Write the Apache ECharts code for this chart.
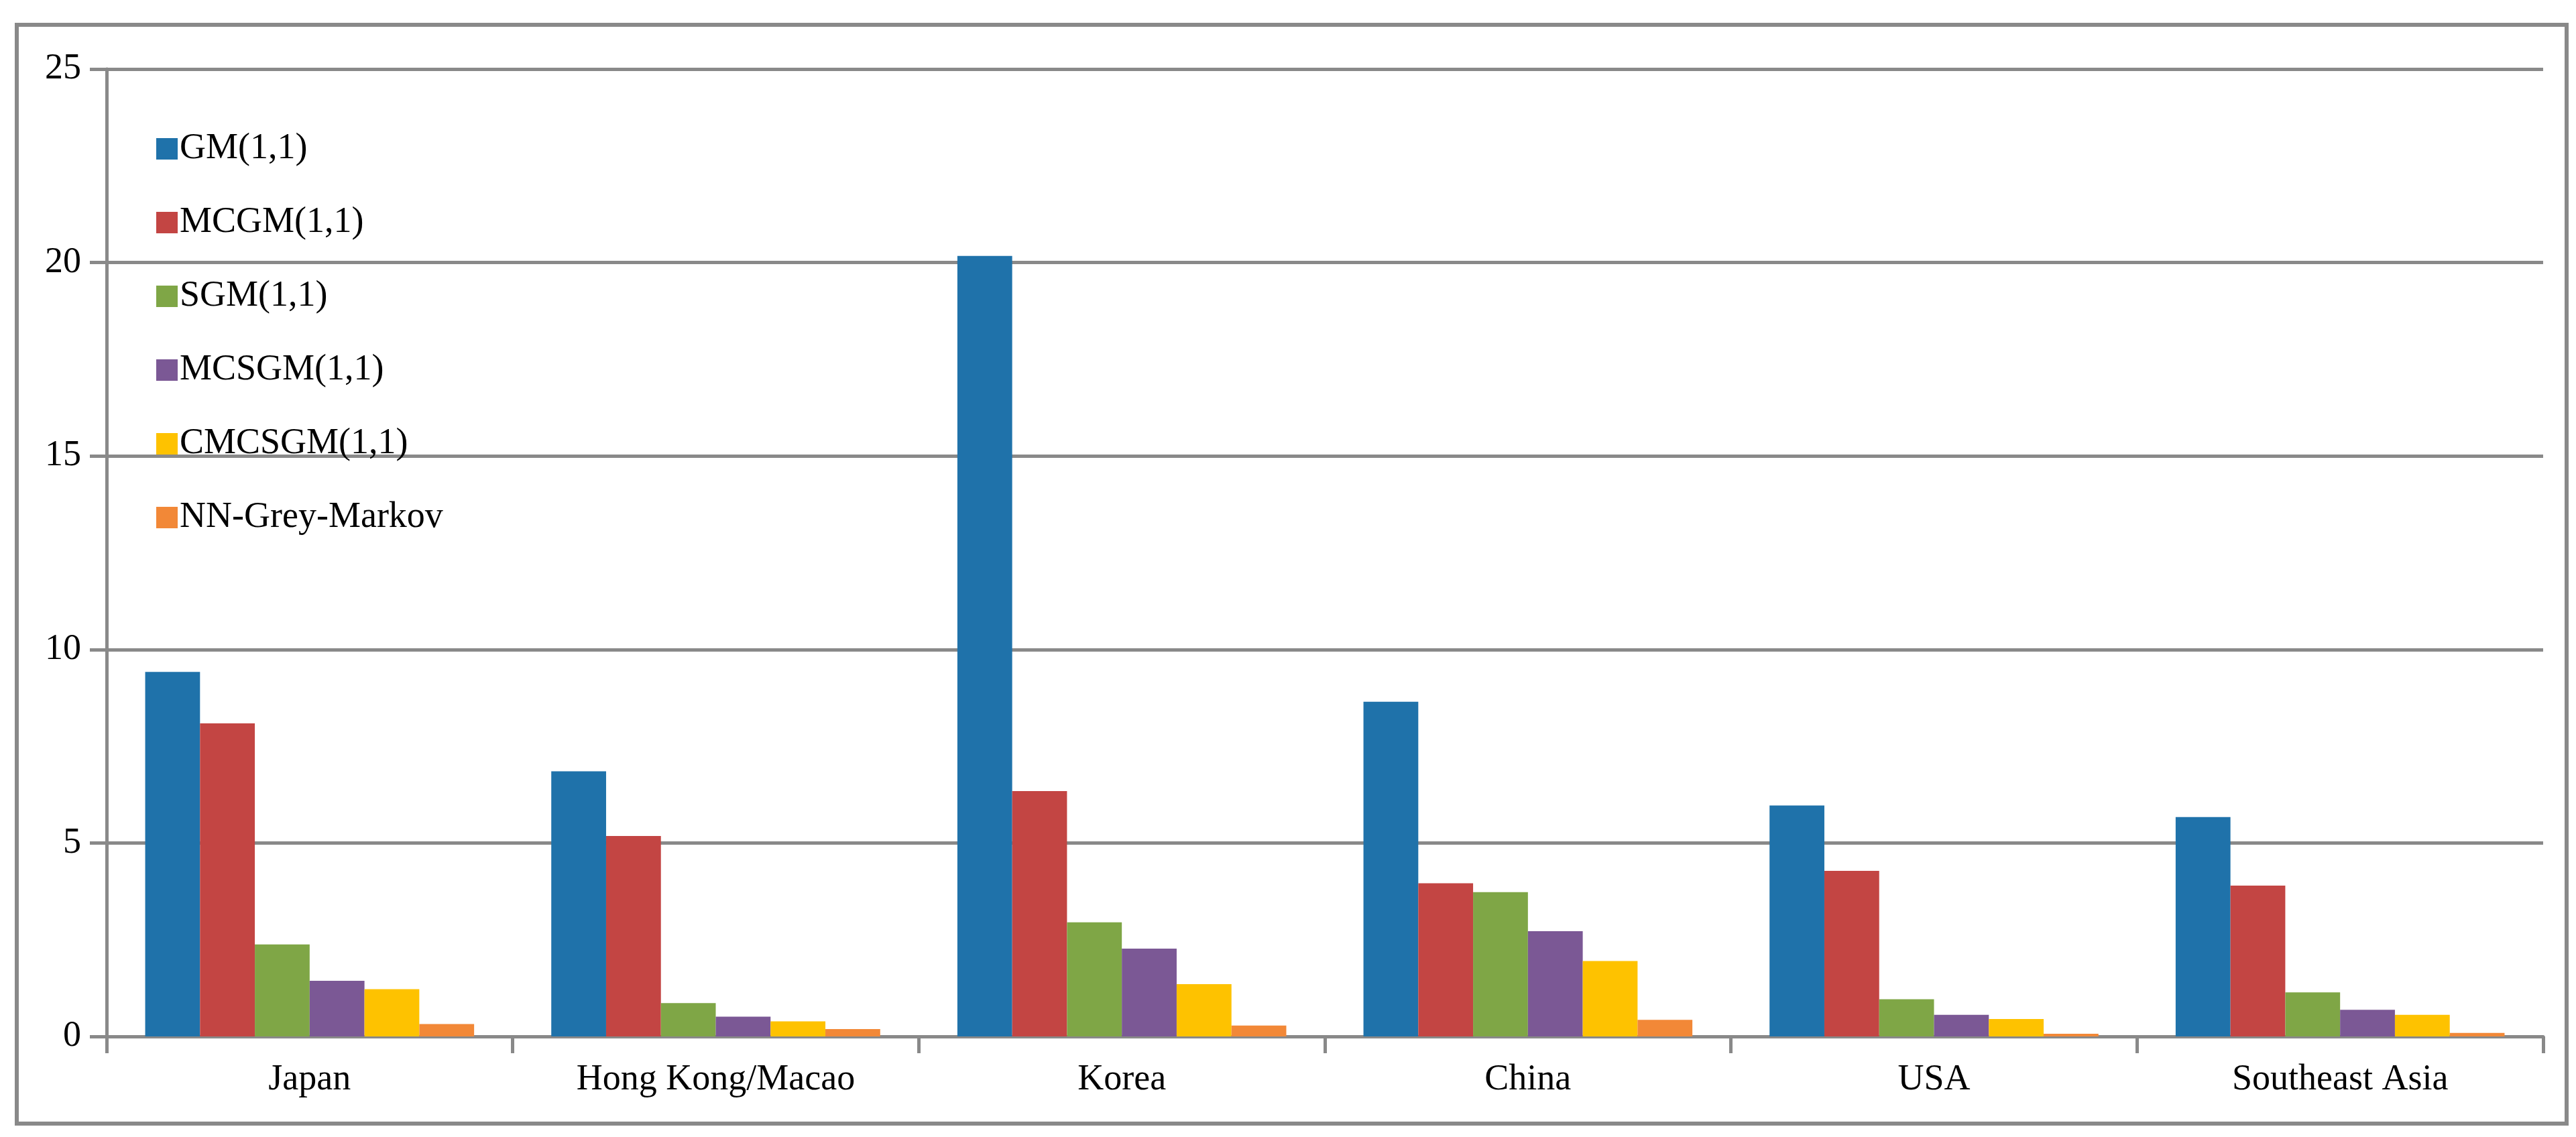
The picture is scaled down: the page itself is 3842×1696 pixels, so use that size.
<!DOCTYPE html>
<html>
<head>
<meta charset="utf-8">
<script src="https://cdn.jsdelivr.net/npm/echarts@6/dist/echarts.min.js"></script>
<style>
html, body { margin: 0; padding: 0; background: #fff; }
#frame { position: absolute; left: 22px; top: 34px; width: 3797px; height: 1633px; border: 6px solid #898989; }
#chart { position: absolute; left: 0; top: 0; width: 3842px; height: 1696px; }
</style>
</head>
<body>
<div id="frame"></div>
<div id="chart"></div>
<script>
var regions = ['Japan', 'Hong Kong/Macao', 'Korea', 'China', 'USA', 'Southeast Asia'];
var gm      = [9.42, 6.85, 20.17, 8.65, 5.97, 5.67];
var mcgm    = [8.09, 5.18, 6.34, 3.96, 4.28, 3.90];
var sgm     = [2.38, 0.86, 2.95, 3.73, 0.96, 1.14];
var mcsgm   = [1.44, 0.51, 2.27, 2.72, 0.56, 0.69];
var cmcsgm  = [1.22, 0.39, 1.35, 1.95, 0.45, 0.56];
var nnGrey  = [0.32, 0.19, 0.28, 0.43, 0.07, 0.09];

var names = ['GM(1,1)', 'MCGM(1,1)', 'SGM(1,1)', 'MCSGM(1,1)', 'CMCSGM(1,1)', 'NN-Grey-Markov'];
var colors = ['#1f72aa', '#c34543', '#7fa646', '#7b5895', '#fec200', '#f28837'];
var values = [gm, mcgm, sgm, mcsgm, cmcsgm, nnGrey];

var font = 'Liberation Serif';
var chart = echarts.init(document.getElementById('chart'));
var option = {
    animation: false,
    textStyle: { fontFamily: font },
    grid: { left: 159, right: 49, top: 103, bottom: 150, containLabel: false },
    legend: {
        orient: 'vertical',
        left: 228,
        top: 190,
        itemWidth: 32,
        itemHeight: 32,
        itemGap: 56,
        icon: 'rect',
        textStyle: { fontFamily: font, fontSize: 54, color: '#000', padding: [0, 0, 0, -2] },
        data: names
    },
    xAxis: {
        type: 'category',
        data: regions,
        axisLine: { lineStyle: { color: '#898989', width: 5 } },
        axisTick: { show: true, length: 25, lineStyle: { color: '#898989', width: 5 } },
        axisLabel: { fontFamily: font, fontSize: 54, color: '#000', margin: 38 }
    },
    yAxis: {
        type: 'value',
        min: 0, max: 25, interval: 5,
        axisLine: { show: true, lineStyle: { color: '#898989', width: 5 } },
        axisTick: { show: true, length: 25, lineStyle: { color: '#898989', width: 5 } },
        axisLabel: { fontFamily: font, fontSize: 54, color: '#000', margin: 38 },
        splitLine: { lineStyle: { color: '#898989', width: 5 } }
    },
    series: names.map(function (n, i) {
        return {
            name: n,
            type: 'bar',
            data: values[i],
            itemStyle: { color: colors[i] },
            barGap: '0%',
            barCategoryGap: '19%'
        };
    })
};
chart.setOption(option);
</script>
</body>
</html>
